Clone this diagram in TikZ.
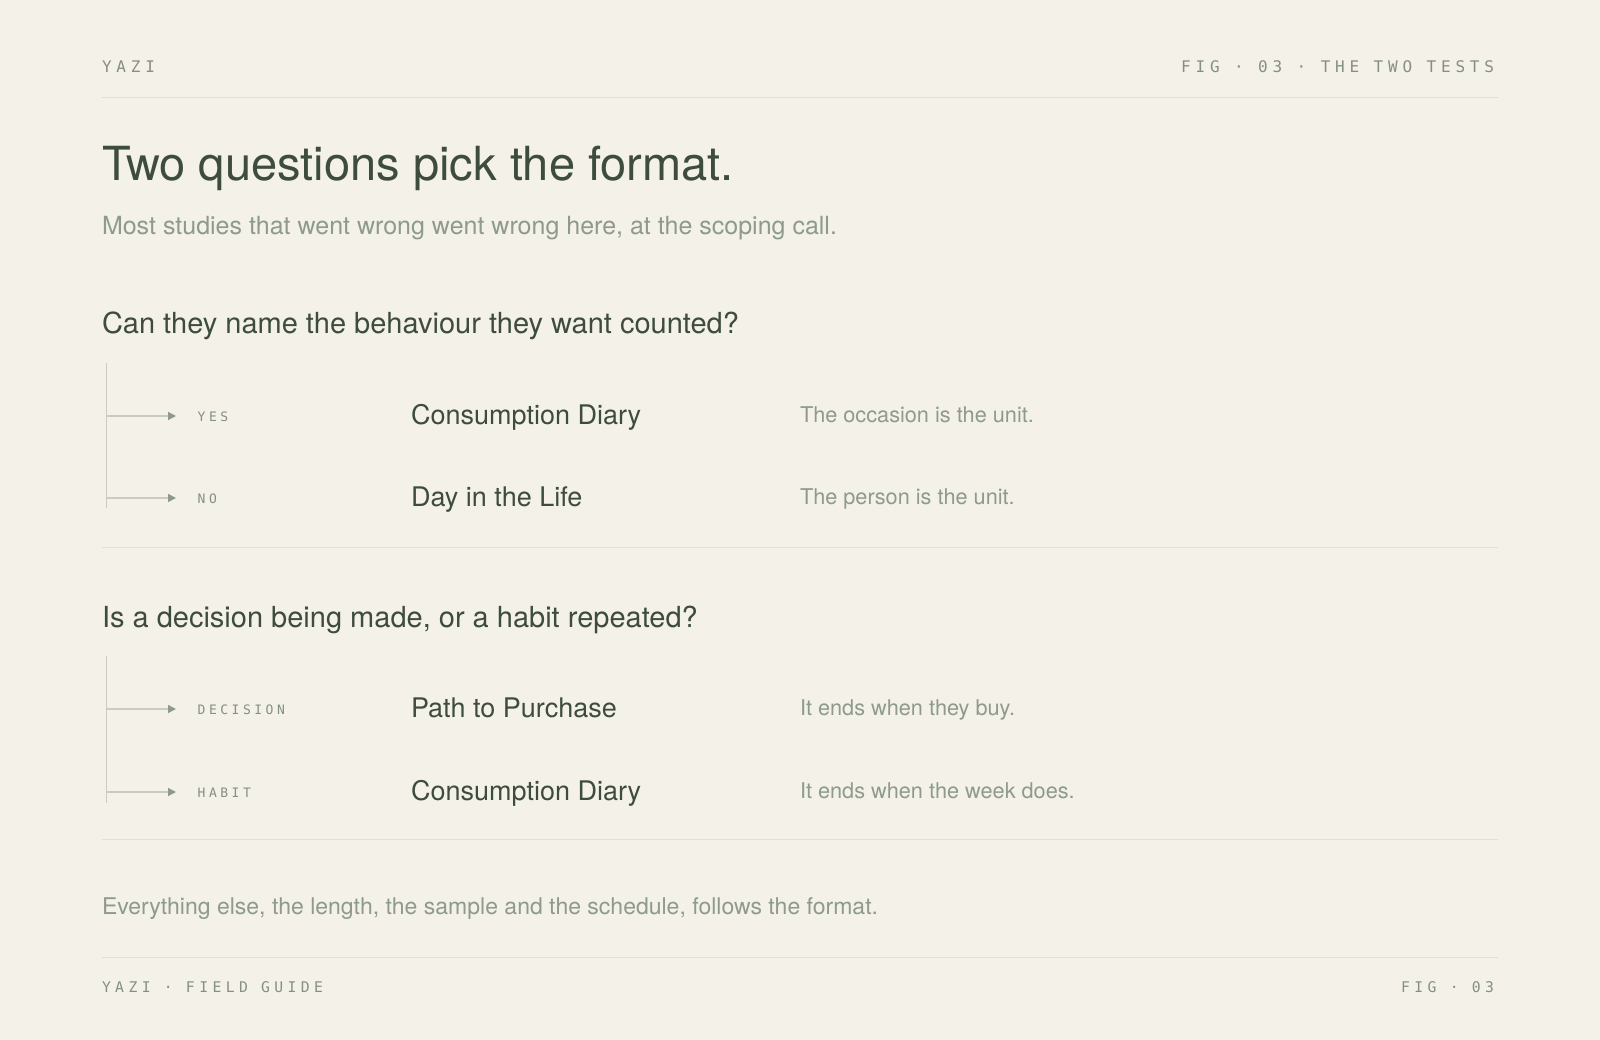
\documentclass[tikz,border=0pt]{standalone}
\usepackage{fontspec}
\setmainfont{TeX Gyre Heros}
\newfontfamily\monoHead[LetterSpace=30]{DejaVu Sans Mono}
\newfontfamily\monoLab[LetterSpace=27]{DejaVu Sans Mono}
\usetikzlibrary{arrows.meta}
\definecolor{bgc}{HTML}{F3F1E8}
\definecolor{ink}{HTML}{3E4C3E}
\definecolor{muted}{HTML}{8E9A8B}
\definecolor{monoc}{HTML}{858F83}
\definecolor{rulec}{HTML}{E1E0D6}
\definecolor{branchc}{HTML}{C9CCBF}
\definecolor{arrowc}{HTML}{8E9B8B}
\tikzset{
  txt/.style={inner sep=0pt, outer sep=0pt, anchor=base west},
  headmono/.style={txt, text=monoc, font=\monoHead\fontsize{16}{19}\selectfont},
  footmono/.style={txt, text=monoc, font=\monoHead\fontsize{14.7}{18}\selectfont},
  titletxt/.style={txt, text=ink, font=\fontsize{47}{52}\selectfont},
  subtxt/.style={txt, text=muted, font=\fontsize{25}{30}\selectfont},
  questtxt/.style={txt, text=ink, font=\fontsize{29}{34}\selectfont},
  opttxt/.style={txt, text=ink, font=\fontsize{27}{32}\selectfont},
  desctxt/.style={txt, text=muted, font=\fontsize{21.7}{26}\selectfont},
  notetxt/.style={txt, text=muted, font=\fontsize{23}{28}\selectfont},
  labtxt/.style={txt, text=monoc, font=\monoLab\fontsize{13}{16}\selectfont},
  rule/.style={draw=rulec, line width=1pt},
  trunk/.style={draw=branchc, line width=1.5pt},
  branch/.style={draw=branchc, line width=1.5pt, -{Triangle[length=8pt,width=8pt,color=arrowc]}},
}
\begin{document}
\begin{tikzpicture}[x=1pt,y=-1pt]
\fill[bgc] (0,0) rectangle (1600,1040);
\useasboundingbox (0,0) rectangle (1600,1040);

% header
\node[headmono] (hl) at (102,72.5) {YAZI};
\node[headmono, anchor=base east] (hr) at (1494,72.5) {FIG · 03 · THE TWO TESTS};
\coordinate (hrule1) at (102,98);
\coordinate (hrule2) at (1498,98);
\draw[rule] (hrule1) -- (hrule2);

% title
\node[titletxt] (title) at (102,181) {Two questions pick the format.};
\node[subtxt] (sub) at (102,235) {Most studies that went wrong went wrong here, at the scoping call.};

% question 1
\node[questtxt] (q1) at (102,333.5) {Can they name the behaviour they want counted?};
\coordinate (t1) at (106.5,363);
\coordinate (b1) at (106.5,508);
\draw[trunk] (t1) -- (b1);
\coordinate (y1s) at (106.5,416);
\coordinate (y1e) at (176,416);
\coordinate (n1s) at (106.5,498);
\coordinate (n1e) at (176,498);
\draw[branch] (y1s) -- (y1e);
\draw[branch] (n1s) -- (n1e);
\node[labtxt] (lyes) at (197.7,421.7) {YES};
\node[labtxt] (lno) at (197.7,503.7) {NO};
\node[opttxt] (o1) at (411,424.5) {Consumption Diary};
\node[opttxt] (o2) at (411,506.5) {Day in the Life};
\node[desctxt] (d1) at (800,422.5) {The occasion is the unit.};
\node[desctxt] (d2) at (800,504.5) {The person is the unit.};

\coordinate (s1a) at (102,547);
\coordinate (s1b) at (1498,547);
\draw[rule] (s1a) -- (s1b);

% question 2
\node[questtxt] (q2) at (102,627) {Is a decision being made, or a habit repeated?};
\coordinate (t2) at (106.5,656);
\coordinate (b2) at (106.5,803);
\draw[trunk] (t2) -- (b2);
\coordinate (y2s) at (106.5,709);
\coordinate (y2e) at (176,709);
\coordinate (n2s) at (106.5,792);
\coordinate (n2e) at (176,792);
\draw[branch] (y2s) -- (y2e);
\draw[branch] (n2s) -- (n2e);
\node[labtxt] (ldec) at (197.7,714.7) {DECISION};
\node[labtxt] (lhab) at (197.7,797.7) {HABIT};
\node[opttxt] (o3) at (411,717.5) {Path to Purchase};
\node[opttxt] (o4) at (411,800.5) {Consumption Diary};
\node[desctxt] (d3) at (800,715.5) {It ends when they buy.};
\node[desctxt] (d4) at (800,798.5) {It ends when the week does.};

\coordinate (s2a) at (102,839.5);
\coordinate (s2b) at (1498,839.5);
\draw[rule] (s2a) -- (s2b);

% note
\node[notetxt] (note) at (102,914) {Everything else, the length, the sample and the schedule, follows the format.};

% footer
\coordinate (f1) at (102,957);
\coordinate (f2) at (1498,957);
\draw[rule] (f1) -- (f2);
\node[footmono] (fl) at (102,992) {YAZI · FIELD GUIDE};
\node[footmono, anchor=base east] (fr) at (1494,992) {FIG · 03};
\end{tikzpicture}
\end{document}
